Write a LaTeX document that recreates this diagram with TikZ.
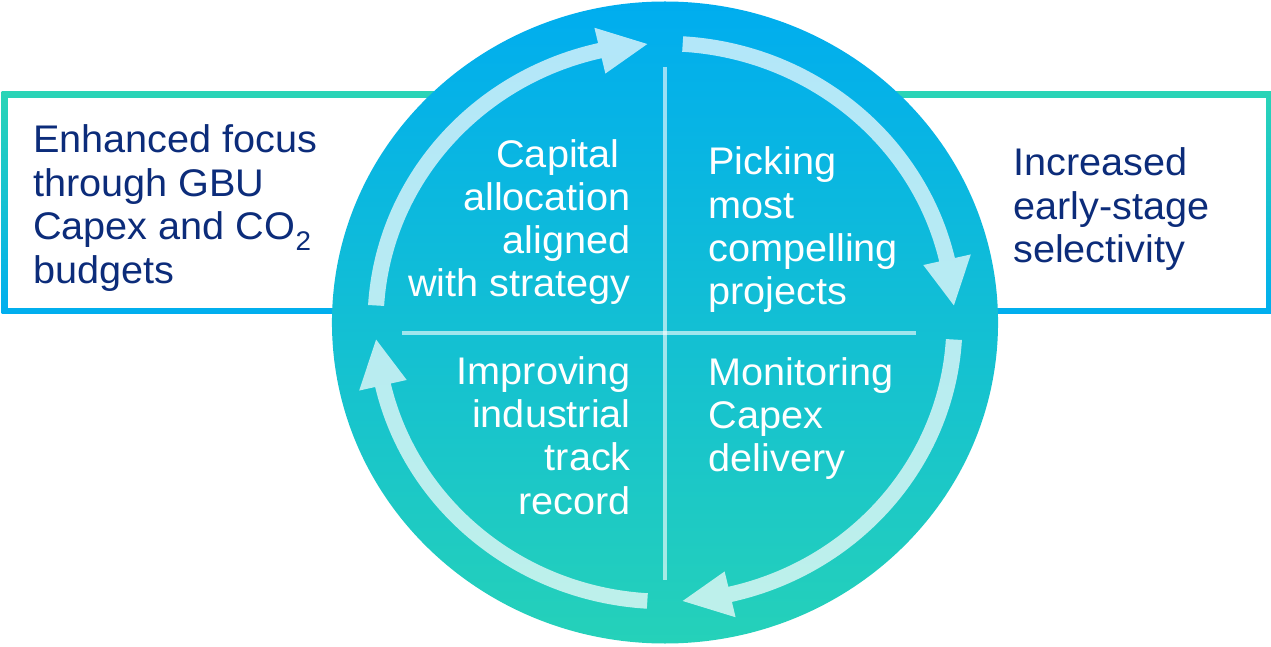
\documentclass[tikz,border=0pt]{standalone}
\usepackage{fontspec}
\setmainfont{Liberation Sans}[FakeStretch=1.03]
\definecolor{circtop}{RGB}{0,173,239}
\definecolor{circbot}{RGB}{37,209,185}
\definecolor{boxtop}{RGB}{42,212,182}
\definecolor{boxbot}{RGB}{0,174,239}
\definecolor{darktext}{RGB}{12,44,122}
\newcommand\cyclearrow[1]{%
  \fill[ringarrow] ({#1+86.5}:286.75pt)
    arc[start angle={#1+86.5}, end angle={#1+13}, radius=286.75pt]
    -- ({#1+13}:302.5pt) -- ({#1+3.5}:279pt) -- ({#1+13}:255.5pt)
    -- ({#1+13}:271.25pt)
    arc[start angle={#1+13}, end angle={#1+86.5}, radius=271.25pt] -- cycle;}
\begin{document}
\begin{tikzpicture}[x=1pt,y=1pt,
  quadtext/.style={text=white, inner sep=0pt, font=\fontsize{38.5pt}{43.2pt}\selectfont},
  sidetext/.style={text=darktext, inner sep=0pt, font=\fontsize{38.5pt}{43.5pt}\selectfont},
  divider/.style={draw=white, draw opacity=0.6, line width=3.5pt},
  ringarrow/.style={fill=white, fill opacity=0.7},
  boxframe/.style={top color=boxtop, bottom color=boxbot}]
\useasboundingbox (0,0) rectangle (1271,646);
% side boxes
\shade[boxframe] (1.5,332) rectangle (700,554);
\fill[white] (7.5,338) rectangle (700,548);
\shade[boxframe] (630,332) rectangle (1271,554);
\fill[white] (630,338) rectangle (1265.5,548);
% circle and arrows
\begin{scope}[shift={(665,323.5)}, xscale=1.0375]
  \shade[top color=circtop, bottom color=circbot] (0,0) circle[radius=321pt];
\end{scope}
\draw[divider] (665,579) -- (665,66);
\draw[divider] (402,313) -- (916,313);
\begin{scope}[shift={(665,323.5)}, xscale=1.0375]
  \cyclearrow{0}
  \cyclearrow{90}
  \cyclearrow{180}
  \cyclearrow{270}
\end{scope}
% texts (base anchor = baseline of the last line)
\node[quadtext, anchor=base east, align=right] (capital) at (631,349.3)
  {Capital\hspace*{11pt}\\allocation\\aligned\\with strategy};
\node[quadtext, anchor=base west, align=left] (picking) at (708.3,341.4)
  {Picking\\most\\compelling\\projects};
\node[quadtext, anchor=base east, align=right] (improving) at (631,132)
  {Improving\\industrial\\track\\record};
\node[quadtext, anchor=base west, align=left] (monitoring) at (708.3,174.6)
  {Monitoring\\Capex\\delivery};
\node[sidetext, anchor=base west, align=left] (enhanced) at (33,362.5)
  {Enhanced focus\\through GBU\\Capex and CO\textsubscript{2}\\budgets};
\node[sidetext, anchor=base west, align=left] (increased) at (1013,383.3)
  {Increased\\early-stage\\selectivity};
\end{tikzpicture}
\end{document}
